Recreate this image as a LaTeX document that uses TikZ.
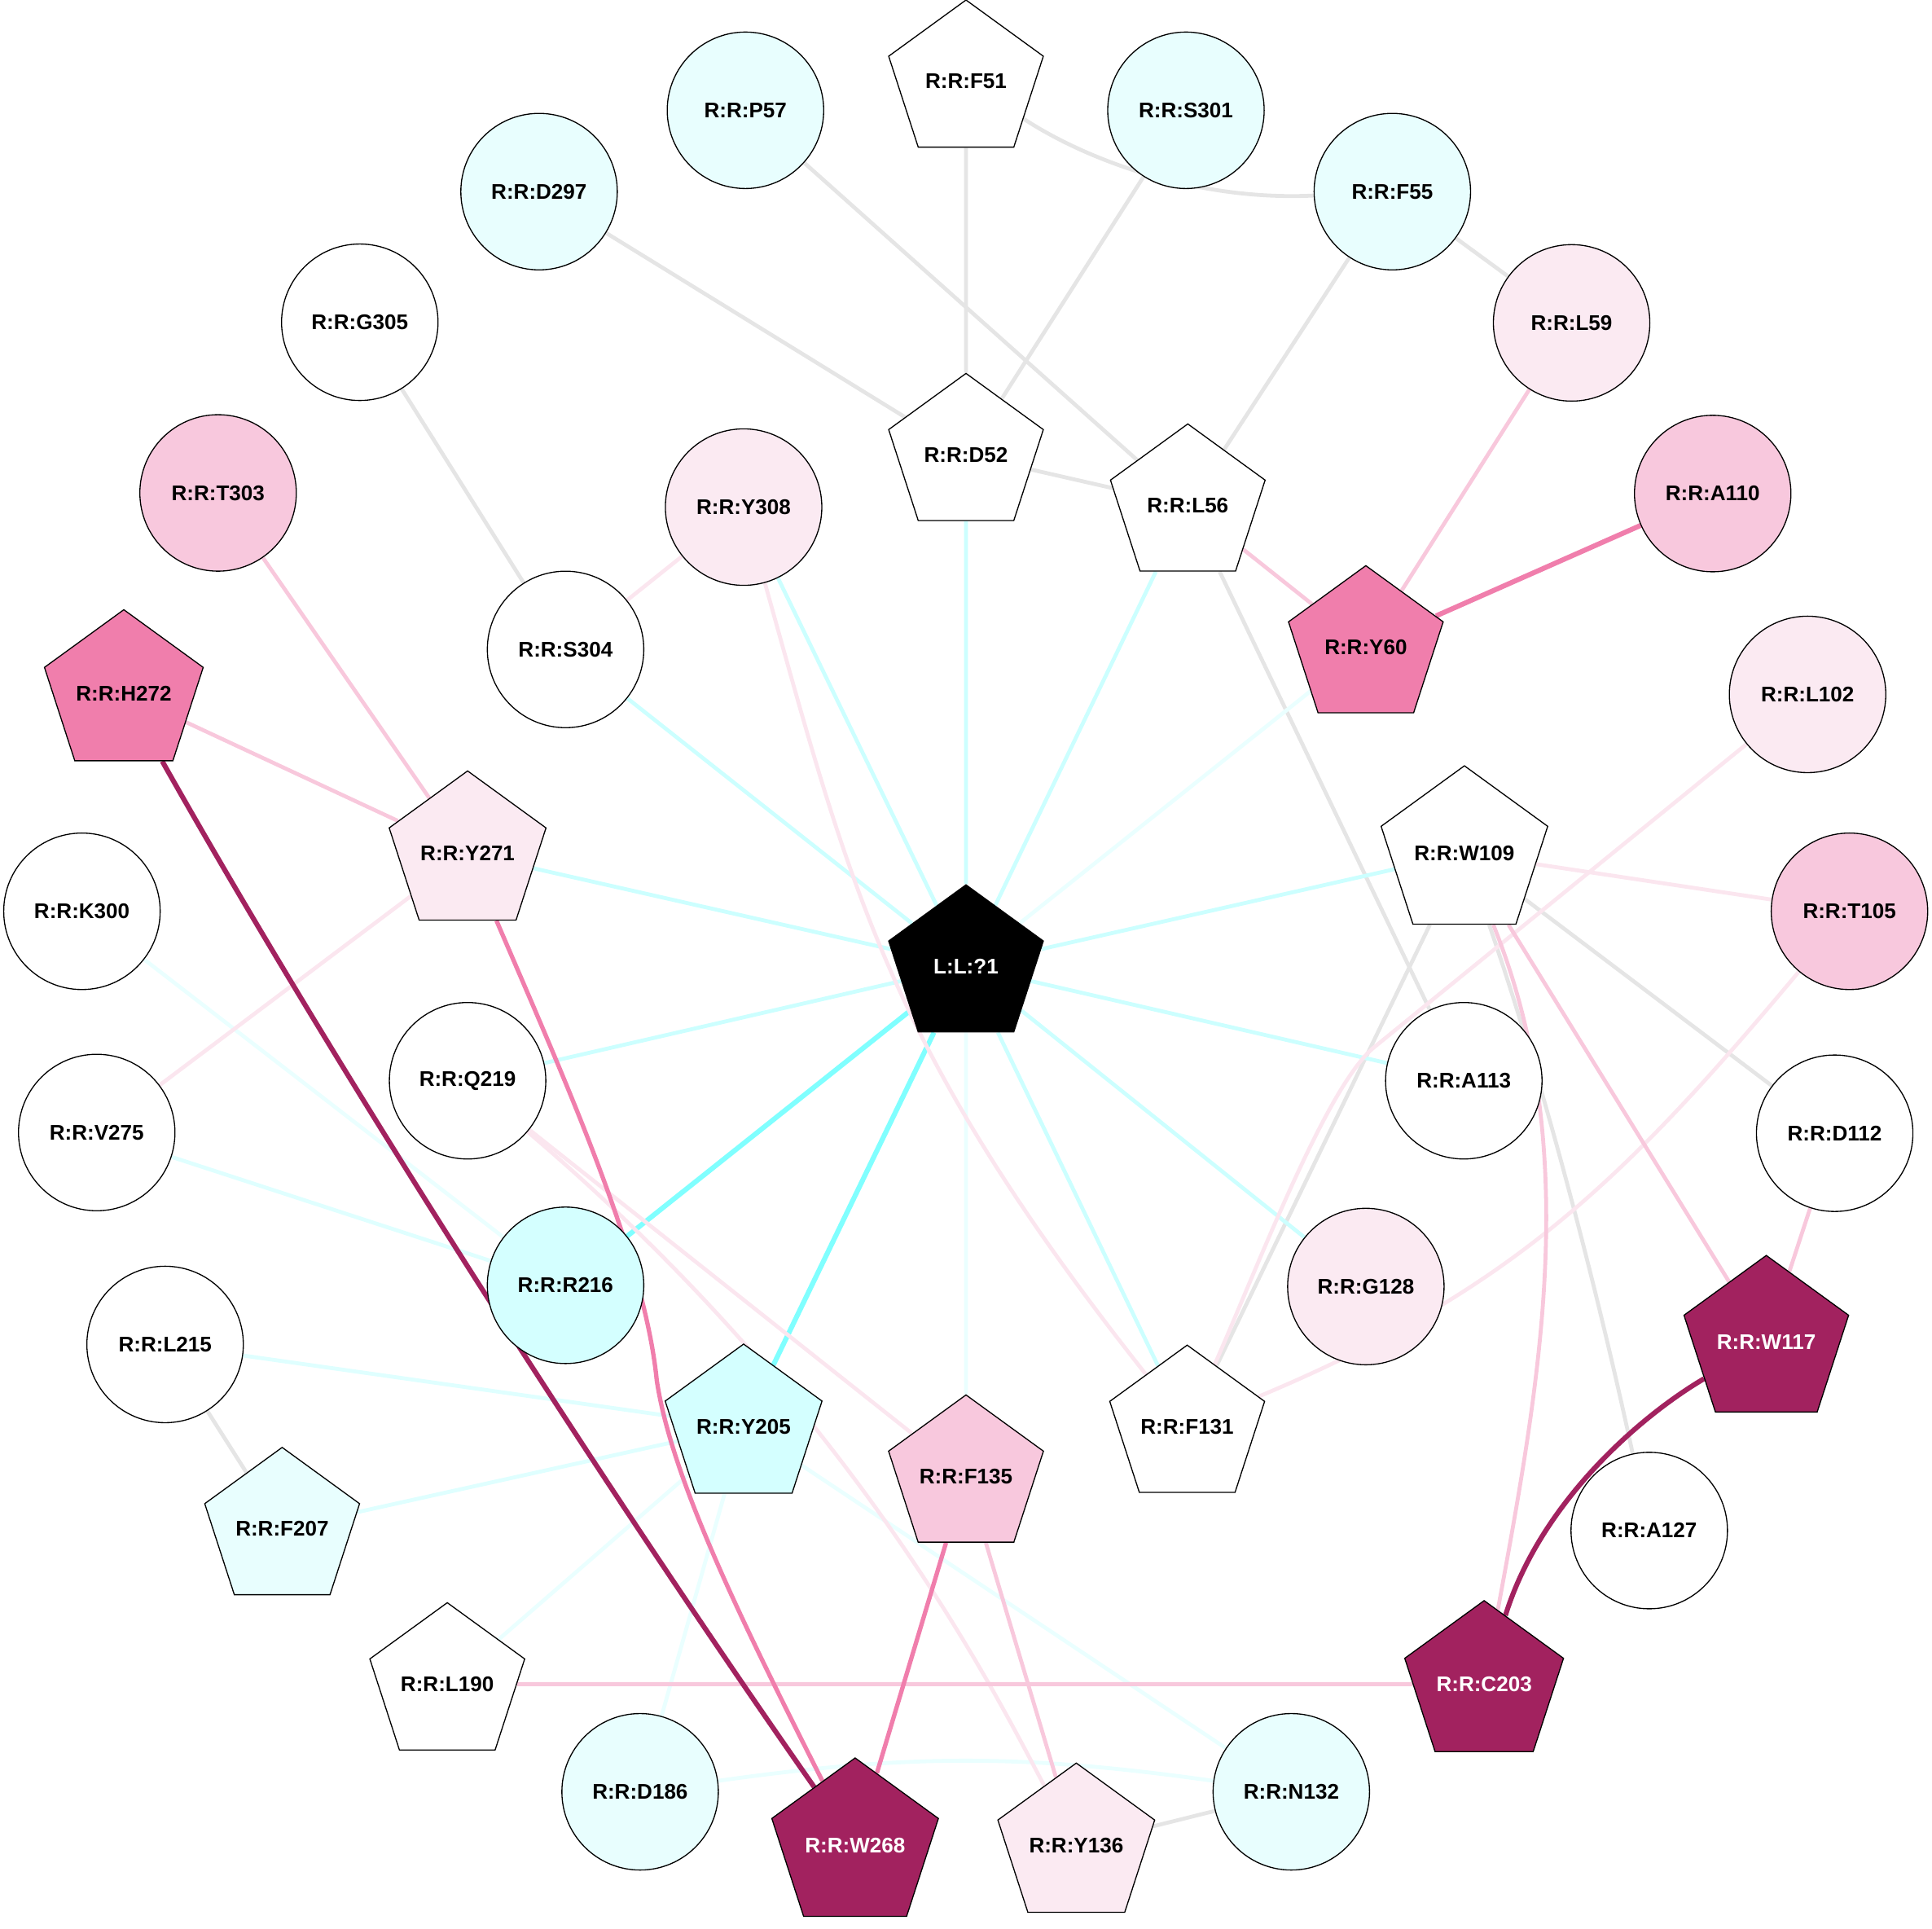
\documentclass[tikz,border=0pt]{standalone}
\usepackage{fontspec}
\setmainfont{Liberation Sans}
\usepackage{tikz}
\usetikzlibrary{shapes.geometric}
\pgfdeclarelayer{edges}
\pgfsetlayers{edges,main}
\definecolor{eGrey}{HTML}{E5E5E5}
\definecolor{eCyS}{HTML}{80FFFF}
\definecolor{eCyM}{HTML}{CCFFFF}
\definecolor{eCyL}{HTML}{DFFFFF}
\definecolor{eCyXL}{HTML}{EAFFFF}
\definecolor{ePkL}{HTML}{FBE6EF}
\definecolor{ePkM}{HTML}{F8C8DC}
\definecolor{ePkS}{HTML}{F07EAC}
\definecolor{ePkD}{HTML}{A2225F}
\definecolor{fCy}{HTML}{E8FEFE}
\definecolor{fCyS}{HTML}{D4FFFF}
\definecolor{fPkL}{HTML}{FBEAF2}
\definecolor{fPkM}{HTML}{F8C8DD}
\definecolor{fPkS}{HTML}{F07EAC}
\definecolor{fPkD}{HTML}{A2225F}

\begin{document}
\begin{tikzpicture}[x=0.02cm, y=-0.02cm,
    res/.style={circle, draw, fill=white, line width=0.5pt, minimum size=2.54cm, inner sep=0pt,
      font=\fontsize{9.8}{11}\selectfont\bfseries},
    resp/.style={res, regular polygon, regular polygon sides=5, minimum size=2.64cm},
    dark/.style={fill=fPkD, text=white},
    link/.style={line width=1.8pt},
    thick link/.style={line width=2.3pt}]
    \useasboundingbox (0,0) rectangle (1568,1565);

    \node[res, fill=fCy] (P57) at (605,89.5) {R:R:P57};
    \node[res, fill=fCy] (D297) at (437.5,155.5) {R:R:D297};
    \node[res, fill=fCy] (S301) at (962.5,89.5) {R:R:S301};
    \node[res, fill=fCy] (F55) at (1130,155.5) {R:R:F55};
    \node[res] (G305) at (292,261.5) {R:R:G305};
    \node[res, fill=fPkL] (L59) at (1275.5,262) {R:R:L59};
    \node[res, fill=fPkM] (T303) at (177,400) {R:R:T303};
    \node[res, fill=fPkL] (Y308) at (603.5,411.5) {R:R:Y308};
    \node[res, fill=fPkM] (A110) at (1390,400.5) {R:R:A110};
    \node[res] (S304) at (459,527) {R:R:S304};
    \node[res, fill=fPkL] (L102) at (1467,563.5) {R:R:L102};
    \node[res] (K300) at (66.5,739.5) {R:R:K300};
    \node[res, fill=fPkM] (T105) at (1501,739.5) {R:R:T105};
    \node[res] (Q219) at (379.5,877) {R:R:Q219};
    \node[res] (A113) at (1188,877) {R:R:A113};
    \node[res] (V275) at (78.5,919) {R:R:V275};
    \node[res] (D112) at (1489,919.6) {R:R:D112};
    \node[res, fill=fCyS] (R216) at (459,1043) {R:R:R216};
    \node[res, fill=fPkL] (G128) at (1108.5,1044) {R:R:G128};
    \node[res] (L215) at (134,1091) {R:R:L215};
    \node[res] (A127) at (1338.5,1242) {R:R:A127};
    \node[res, fill=fCy] (D186) at (519.5,1454) {R:R:D186};
    \node[res, fill=fCy] (N132) at (1048,1454) {R:R:N132};

    \node[resp] (F51) at (784,66) {R:R:F51};
    \node[resp] (D52) at (784,369) {R:R:D52};
    \node[resp] (L56) at (964,410) {R:R:L56};
    \node[resp, fill=fPkS] (Y60) at (1108.5,525) {R:R:Y60};
    \node[resp, fill=fPkS] (H272) at (100.5,562.5) {R:R:H272};
    \node[resp, fill=fPkL] (Y271) at (379.5,692.5) {R:R:Y271};
    \node[resp] (W109) at (1188.5,692.5) {R:R:W109};
    \node[resp, fill=black, text=white] (lig) at (784,784) {L:L:?1};
    \node[resp, dark] (W117) at (1433.5,1089) {R:R:W117};
    \node[resp, fill=fCyS] (Y205) at (603.5,1157.6) {R:R:Y205};
    \node[resp] (F131) at (963.5,1157.6) {R:R:F131};
    \node[resp, fill=fPkM] (F135) at (784,1198) {R:R:F135};
    \node[resp, fill=fCy] (F207) at (229,1240.6) {R:R:F207};
    \node[resp] (L190) at (363,1366.6) {R:R:L190};
    \node[resp, dark] (C203) at (1204.5,1366.6) {R:R:C203};
    \node[resp, dark] (W268) at (694,1497.6) {R:R:W268};
    \node[resp, fill=fPkL] (Y136) at (873.5,1497.6) {R:R:Y136};

    \begin{pgfonlayer}{edges}
    % grey
    \draw[link, eGrey] (F51) -- (D52);
    \draw[link, eGrey] (F51) .. controls (890,135) and (980,163) .. (F55);
    \draw[link, eGrey] (S301) -- (D52);
    \draw[link, eGrey] (P57) -- (L56);
    \draw[link, eGrey] (D297) -- (D52);
    \draw[link, eGrey] (F55) -- (L56);
    \draw[link, eGrey] (F55) -- (L59);
    \draw[link, eGrey] (D52) -- (L56);
    \draw[link, eGrey] (G305) -- (S304);
    \draw[link, eGrey] (L56) -- (A113);
    \draw[link, eGrey] (W109) -- (F131);
    \draw[link, eGrey] (W109) -- (D112);
    \draw[link, eGrey] (W109) .. controls (1250,870) and (1295,1040) .. (A127);
    \draw[link, eGrey] (L215) -- (F207);
    \draw[link, eGrey] (Y136) -- (N132);
    % cyan
    \draw[thick link, eCyS] (lig) -- (R216);
    \draw[thick link, eCyS] (lig) -- (Y205);
    \foreach \r in {D52,L56,Y308,S304,Y271,W109,Q219,A113,G128,F131}
      \draw[link, eCyM] (lig) -- (\r);
    \draw[link, eCyXL] (lig) -- (Y60);
    \draw[link, eCyXL] (lig) -- (F135);
    \draw[link, eCyXL] (K300) -- (R216);
    \draw[link, eCyL] (V275) -- (R216);
    \draw[link, eCyL] (L215) -- (Y205);
    \draw[link, eCyL] (F207) -- (Y205);
    \draw[link, eCyXL] (L190) -- (Y205);
    \draw[link, eCyXL] (D186) -- (Y205);
    \draw[link, eCyXL] (Y205) -- (N132);
    \draw[link, eCyXL] (D186) to[bend left=8] (N132);
    % pink
    \draw[link, ePkL] (Y308) -- (S304);
    \draw[link, ePkL] (Y308) .. controls (690,720) and (720,850) .. (F131);
    \draw[link, ePkL] (Y271) -- (V275);
    \draw[link, ePkL] (Q219) -- (F135);
    \draw[link, ePkL] (Q219) .. controls (696,1146) and (809,1377) .. (Y136);
    \draw[link, ePkL] (L102) -- (1115,850) .. controls (1076,882) and (1020,1030) .. (F131);
    \draw[link, ePkL] (T105) .. controls (1317,959) and (1227,1047) .. (F131);
    \draw[link, ePkL] (W109) -- (T105);
    \draw[link, ePkM] (T303) -- (Y271);
    \draw[link, ePkM] (H272) -- (Y271);
    \draw[link, ePkM] (L56) -- (Y60);
    \draw[link, ePkM] (L59) -- (Y60);
    \draw[link, ePkM] (F135) -- (Y136);
    \draw[link, ePkM] (L190) -- (C203);
    \draw[link, ePkM] (W109) -- (W117);
    \draw[link, ePkM] (W109) .. controls (1285,931) and (1250,1120) .. (C203);
    \draw[link, ePkM] (D112) -- (W117);
    \draw[thick link, ePkS] (A110) -- (Y60);
    \draw[link, ePkS, line width=2pt] (Y271) .. controls (460,880) and (523,1020) .. (533,1120)
      .. controls (545,1200) and (602,1316) .. (W268);
    \draw[link, ePkS, line width=2pt] (F135) -- (W268);
    \draw[thick link, ePkD] (H272) .. controls (278,877) and (492,1209) .. (W268);
    \draw[thick link, ePkD] (W117) .. controls (1330,1150) and (1250,1220) .. (C203);
    \end{pgfonlayer}
\end{tikzpicture}
\end{document}
